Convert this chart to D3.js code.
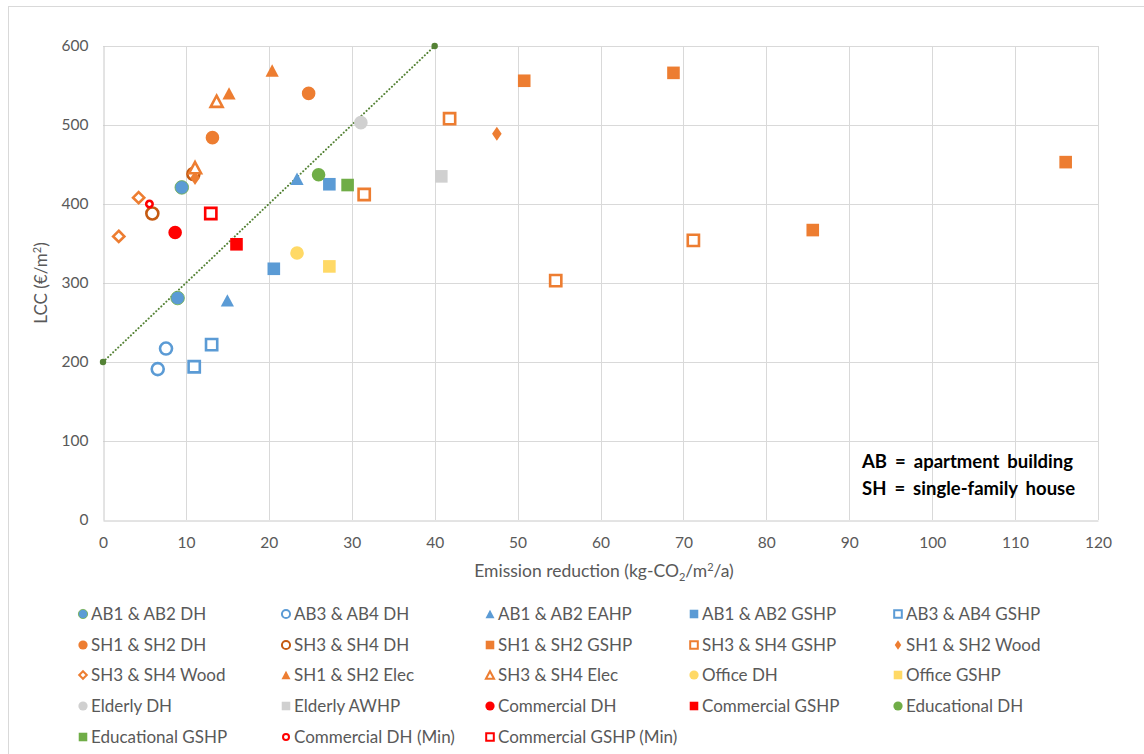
<!DOCTYPE html>
<html>
<head>
<meta charset="utf-8">
<script src="https://cdn.jsdelivr.net/npm/d3@7"></script>
<style>
  html, body { margin: 0; padding: 0; background: #fff; }
  svg { display: block; font-family: Lato, "Liberation Sans", Arial, sans-serif; }
</style>
</head>
<body>
<svg id="chart" width="1144" height="754"></svg>
<script>
// ---- axis ticks ----
const xTicks = [0, 10, 20, 30, 40, 50, 60, 70, 80, 90, 100, 110, 120];
const yTicks = [0, 100, 200, 300, 400, 500, 600];

// ---- series values: [emission reduction, LCC] ----
const ab12DH        = [[9.5, 421], [9.0, 281]];
const ab34DH        = [[7.6, 217], [6.6, 191]];
const ab12EAHP      = [[23.4, 432], [15.0, 278]];
const ab12GSHP      = [[27.3, 425], [20.6, 318]];
const ab34GSHP      = [[13.1, 222], [11.0, 194]];
const sh12DH        = [[24.8, 540], [13.2, 484]];
const sh34DH        = [[10.9, 438], [5.95, 388]];
const sh12GSHP      = [[50.8, 556], [68.8, 566], [116.1, 453], [85.6, 367]];
const sh34GSHP      = [[41.8, 508], [31.5, 412], [71.2, 354], [54.6, 303]];
const sh12Wood      = [[47.5, 489], [11.1, 433]];
const sh34Wood      = [[4.3, 408], [1.9, 359]];
const sh12Elec      = [[20.4, 569], [15.2, 540]];
const sh34Elec      = [[13.7, 530], [11.1, 446]];
const officeDH      = [[23.4, 338]];
const officeGSHP    = [[27.3, 321]];
const elderlyDH     = [[31.1, 503]];
const elderlyAWHP   = [[40.8, 435]];
const commercialDH  = [[8.7, 364]];
const commercialGSHP = [[16.1, 349]];
const educationalDH = [[26.0, 437]];
const educationalGSHP = [[29.5, 424]];
const commercialDHMin = [[5.6, 400]];
const commercialGSHPMin = [[13.0, 388]];
const trendLine     = [[0, 200], [40, 600]];

// ---- series names (legend order) ----
const seriesNames = [
  "AB1 & AB2 DH", "AB3 & AB4 DH", "AB1 & AB2 EAHP", "AB1 & AB2 GSHP", "AB3 & AB4 GSHP",
  "SH1 & SH2 DH", "SH3 & SH4 DH", "SH1 & SH2 GSHP", "SH3 & SH4 GSHP", "SH1 & SH2 Wood",
  "SH3 & SH4 Wood", "SH1 & SH2 Elec", "SH3 & SH4 Elec", "Office DH", "Office GSHP",
  "Elderly DH", "Elderly AWHP", "Commercial DH", "Commercial GSHP", "Educational DH",
  "Educational GSHP", "Commercial DH (Min)", "Commercial GSHP (Min)"
];
const seriesValues = [
  ab12DH, ab34DH, ab12EAHP, ab12GSHP, ab34GSHP,
  sh12DH, sh34DH, sh12GSHP, sh34GSHP, sh12Wood,
  sh34Wood, sh12Elec, sh34Elec, officeDH, officeGSHP,
  elderlyDH, elderlyAWHP, commercialDH, commercialGSHP, educationalDH,
  educationalGSHP, commercialDHMin, commercialGSHPMin
];

// ---- marker styles ----
const BLUE = "#5B9BD5", ORANGE = "#ED7D31", DKORANGE = "#C55A11", GRAY = "#D0D0D0",
      YELLOW = "#FFD966", RED = "#FF0000", GREEN = "#70AD47";
const seriesStyle = [
  { shape: "circle",   color: BLUE,     open: false, edge: GREEN },
  { shape: "circle",   color: BLUE,     open: true },
  { shape: "triangle", color: BLUE,     open: false },
  { shape: "square",   color: BLUE,     open: false },
  { shape: "square",   color: BLUE,     open: true },
  { shape: "circle",   color: ORANGE,   open: false },
  { shape: "circle",   color: DKORANGE, open: true },
  { shape: "square",   color: ORANGE,   open: false },
  { shape: "square",   color: ORANGE,   open: true },
  { shape: "diamond",  color: ORANGE,   open: false },
  { shape: "diamond",  color: ORANGE,   open: true },
  { shape: "triangle", color: ORANGE,   open: false },
  { shape: "triangle", color: ORANGE,   open: true },
  { shape: "circle",   color: YELLOW,   open: false },
  { shape: "square",   color: YELLOW,   open: false },
  { shape: "circle",   color: GRAY,     open: false },
  { shape: "square",   color: GRAY,     open: false },
  { shape: "circle",   color: RED,      open: false },
  { shape: "square",   color: RED,      open: false },
  { shape: "circle",   color: GREEN,    open: false },
  { shape: "square",   color: GREEN,    open: false },
  { shape: "smallcircle", color: RED,   open: true },
  { shape: "square",   color: RED,      open: true }
];

const series = seriesNames.map((name, i) => ({ name, values: seriesValues[i], ...seriesStyle[i] }));

// ---- layout ----
const svg = d3.select("#chart");
const plot = { left: 103, right: 1098, top: 46, bottom: 520 };
const x = d3.scaleLinear().domain([0, 120]).range([plot.left, plot.right]);
const y = d3.scaleLinear().domain([0, 600]).range([plot.bottom, plot.top]);

// chart area outline
svg.append("rect").attr("x", 8.5).attr("y", 6.5).attr("width", 1300).attr("height", 900)
  .attr("fill", "#fff").attr("stroke", "#d9d9d9").attr("stroke-width", 1);

// gridlines
const grid = svg.append("g");
grid.selectAll("line.gx").data(xTicks.slice(1)).join("line")
  .attr("x1", d => Math.round(x(d)) + 0.5).attr("x2", d => Math.round(x(d)) + 0.5)
  .attr("y1", plot.top).attr("y2", plot.bottom)
  .attr("stroke", "#d9d9d9").attr("stroke-width", 1);
grid.selectAll("line.gy").data(yTicks.slice(1)).join("line")
  .attr("x1", plot.left).attr("x2", plot.right)
  .attr("y1", d => Math.round(y(d)) + 0.5).attr("y2", d => Math.round(y(d)) + 0.5)
  .attr("stroke", "#d9d9d9").attr("stroke-width", 1);

// axes
const xAxis = d3.axisBottom(x).tickValues(xTicks).tickSize(0).tickPadding(16);
const yAxis = d3.axisLeft(y).tickValues(yTicks).tickSize(0).tickPadding(15);
const gx = svg.append("g").attr("transform", `translate(0,${plot.bottom + 0.5})`).call(xAxis);
const gy = svg.append("g").attr("transform", `translate(${plot.left + 0.5},0)`).call(yAxis);
[gx, gy].forEach(g => {
  g.select(".domain").attr("stroke", "#c8c8c8").attr("stroke-width", 1);
  g.selectAll("text").attr("fill", "#595959").attr("font-size", 15.5)
    .attr("font-family", "Lato, 'Liberation Sans', sans-serif");
});

// marker paths
function shapePath(shape, open, legend) {
  const k = legend ? 0.68 : 1;
  if (shape === "circle") {
    const r = (open ? 6 : 6.8) * k;
    return d3.symbol(d3.symbolCircle, Math.PI * r * r)();
  }
  if (shape === "smallcircle") {
    const r = (legend ? 3 : 3.2);
    return d3.symbol(d3.symbolCircle, Math.PI * r * r)();
  }
  if (shape === "square") {
    const h = (open ? 5.6 : 6.3) * k;
    return `M${-h},${-h}H${h}V${h}H${-h}Z`;
  }
  if (shape === "triangle") {
    const w = (open ? 6 : 6.6) * k, hh = (open ? 5.6 : 6.2) * k;
    return `M0,${-hh}L${w},${hh}L${-w},${hh}Z`;
  }
  if (shape === "diamond") {
    const w = (open ? 5.6 : 4.8) * k, hh = (open ? 5.6 : 7) * k;
    return `M0,${-hh}L${w},0L0,${hh}L${-w},0Z`;
  }
}
function styleMarker(sel, s, legend) {
  sel.attr("d", shapePath(s.shape, s.open, legend))
    .attr("fill", s.open ? "#fff" : s.color)
    .attr("stroke", s.open ? s.color : (s.edge || "none"))
    .attr("stroke-width", s.open ? (legend ? 2 : 2.6) : (s.edge ? 0.8 : 0));
}

// trend line (dotted) with end points
const line = d3.line().x(d => x(d[0])).y(d => y(d[1]));
svg.append("path").datum(trendLine).attr("d", line)
  .attr("fill", "none").attr("stroke", "#548235").attr("stroke-width", 2)
  .attr("stroke-dasharray", "0.1 3.4").attr("stroke-linecap", "round");
svg.selectAll("circle.trend").data(trendLine).join("circle")
  .attr("cx", d => x(d[0])).attr("cy", d => y(d[1])).attr("r", 3.2)
  .attr("fill", "#548235");

// data markers
const marks = svg.append("g");
series.forEach(s => {
  marks.append("g").selectAll("path").data(s.values).join("path")
    .attr("transform", d => `translate(${x(d[0])},${y(d[1])})`)
    .call(sel => styleMarker(sel, s, false));
});

// annotation
const note = svg.append("g").attr("font-family", "Lato, 'Liberation Sans', sans-serif")
  .attr("font-weight", "bold").attr("font-size", 18.5).attr("fill", "#000");
note.append("text").attr("x", 862).attr("y", 468).attr("word-spacing", 3.5).text("AB = apartment building");
note.append("text").attr("x", 862).attr("y", 495).attr("word-spacing", 3.5).text("SH = single-family house");

// axis titles
const xt = svg.append("text").attr("x", 604).attr("y", 577).attr("text-anchor", "middle")
  .attr("fill", "#595959").attr("font-size", 17.5);
xt.append("tspan").text("Emission reduction (kg-CO");
xt.append("tspan").attr("font-size", 11).attr("dy", 4).text("2");
xt.append("tspan").attr("dy", -4).text("/m");
xt.append("tspan").attr("font-size", 11).attr("dy", -6).text("2");
xt.append("tspan").attr("dy", 6).text("/a)");

const yt = svg.append("text").attr("transform", "translate(47,283) rotate(-90)")
  .attr("text-anchor", "middle").attr("fill", "#595959").attr("font-size", 17);
yt.append("tspan").text("LCC (€/m");
yt.append("tspan").attr("font-size", 11).attr("dy", -6).text("2");
yt.append("tspan").attr("dy", 6).text(")");

// legend: 5 columns, row-major
const legendCols = [83, 286, 490, 694, 898];
const legendRows = [614, 645, 675, 706, 737];
const legend = svg.append("g");
series.forEach((s, i) => {
  const cx = legendCols[i % 5], cy = legendRows[Math.floor(i / 5)];
  const g = legend.append("g").attr("transform", `translate(${cx},${cy})`);
  g.append("path").call(sel => styleMarker(sel, s, true));
  g.append("text").attr("x", 8).attr("y", 0).attr("dy", "0.35em")
    .attr("fill", "#595959").attr("font-size", 17).text(s.name);
});
</script>
</body>
</html>
